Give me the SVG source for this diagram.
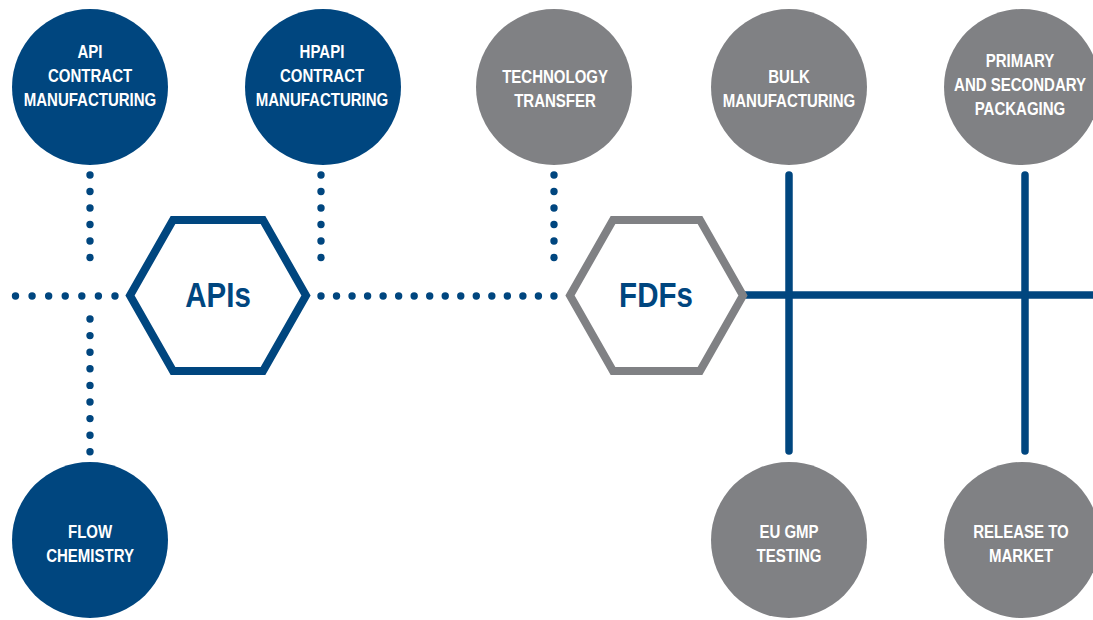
<svg xmlns="http://www.w3.org/2000/svg" width="1093" height="620" viewBox="0 0 1093 620">
<style>
.blue{fill:#00467f}
.gray{fill:#808184}
.lbl{font-family:"Liberation Sans",Arial,sans-serif;font-weight:bold;font-size:19px;fill:#ffffff;text-anchor:middle;transform-box:fill-box;transform-origin:center;transform:scaleX(0.79)}
.hex{font-family:"Liberation Sans",Arial,sans-serif;font-weight:bold;font-size:36px;fill:#00467f;text-anchor:middle;transform-box:fill-box;transform-origin:center;transform:scaleX(0.82)}
.dot{fill:none;stroke:#00467f;stroke-width:7.4;stroke-linecap:round}
.solid{fill:none;stroke:#00467f;stroke-width:7.5;stroke-linecap:round}
</style>
<rect width="1093" height="620" fill="#ffffff"/>
<g id="connectors">
  <path class="dot" d="M90,175 V274" stroke-dasharray="0 16.5"/>
  <path class="dot" d="M90,319 V452" stroke-dasharray="0 16.6"/>
  <path class="dot" d="M321,175 V274" stroke-dasharray="0 16.5"/>
  <path class="dot" d="M554,175 V274" stroke-dasharray="0 16.5"/>
  <path class="dot" d="M15.5,296 H115" stroke-dasharray="0 16.58"/>
  <path class="dot" d="M321,296 H554" stroke-dasharray="0 15.53"/>
  <path class="solid" d="M745,295 H1093" stroke-linecap="butt"/>
  <path class="solid" d="M789,175 V451"/>
  <path class="solid" d="M1025,175 V451"/>
</g>
<g id="apis">
  <polygon points="130,295.5 173,220 263,220 306,295.5 263,371 173,371" fill="#ffffff" stroke="#00467f" stroke-width="8"/>
  <text class="hex" x="218" y="307">APIs</text>
</g>
<g id="fdfs">
  <polygon points="570,295.5 613,220 700,220 743,295.5 700,371 613,371" fill="#ffffff" stroke="#808184" stroke-width="8"/>
  <text class="hex" x="656" y="307">FDFs</text>
</g>
<g id="api-contract">
  <circle class="blue" cx="90" cy="87" r="78"/>
  <text class="lbl" x="90" y="58">API</text>
  <text class="lbl" x="90" y="82">CONTRACT</text>
  <text class="lbl" x="90" y="106">MANUFACTURING</text>
</g>
<g id="hpapi-contract">
  <circle class="blue" cx="323" cy="87" r="78"/>
  <text class="lbl" x="322" y="58">HPAPI</text>
  <text class="lbl" x="322" y="82">CONTRACT</text>
  <text class="lbl" x="322" y="106">MANUFACTURING</text>
</g>
<g id="flow-chemistry">
  <circle class="blue" cx="90" cy="540" r="78"/>
  <text class="lbl" x="90" y="538">FLOW</text>
  <text class="lbl" x="90" y="562">CHEMISTRY</text>
</g>
<g id="technology-transfer">
  <circle class="gray" cx="554" cy="87" r="78"/>
  <text class="lbl" x="555" y="83">TECHNOLOGY</text>
  <text class="lbl" x="555" y="107">TRANSFER</text>
</g>
<g id="bulk-manufacturing">
  <circle class="gray" cx="789" cy="87" r="78"/>
  <text class="lbl" x="789" y="83">BULK</text>
  <text class="lbl" x="789" y="107">MANUFACTURING</text>
</g>
<g id="packaging">
  <circle class="gray" cx="1022" cy="87" r="78"/>
  <text class="lbl" x="1020" y="67">PRIMARY</text>
  <text class="lbl" x="1020" y="91">AND SECONDARY</text>
  <text class="lbl" x="1020" y="115">PACKAGING</text>
</g>
<g id="eu-gmp-testing">
  <circle class="gray" cx="789" cy="540" r="78"/>
  <text class="lbl" x="789" y="538">EU GMP</text>
  <text class="lbl" x="789" y="562">TESTING</text>
</g>
<g id="release-to-market">
  <circle class="gray" cx="1022" cy="540" r="78"/>
  <text class="lbl" x="1021" y="538">RELEASE TO</text>
  <text class="lbl" x="1021" y="562">MARKET</text>
</g>
</svg>
